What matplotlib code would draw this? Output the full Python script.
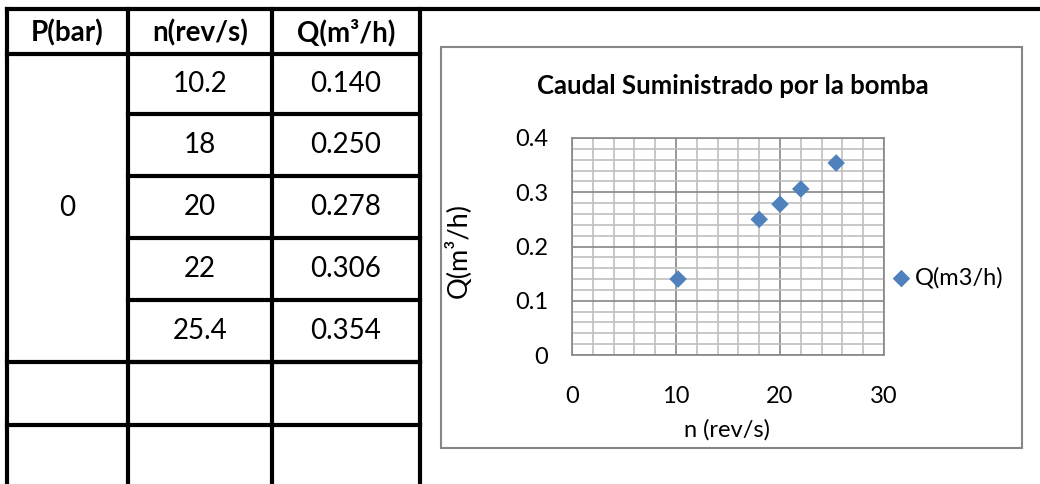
import matplotlib
matplotlib.use("Agg")
import matplotlib.pyplot as plt
from matplotlib.lines import Line2D
from matplotlib.ticker import MultipleLocator, FuncFormatter

plt.rcParams['font.family'] = ['Lato', 'DejaVu Sans']

# pump test data
pressure = ["0"]
speed_labels = ["10.2", "18", "20", "22", "25.4"]
speed = [10.2, 18, 20, 22, 25.4]
flow = [0.140, 0.250, 0.278, 0.306, 0.354]
headers = ["P(bar)", "n(rev/s)", "Q(m³/h)"]

W, H = 1040, 484
fig = plt.figure(figsize=(W / 100, H / 100), dpi=100)

# background layer in pixel units for the table and chart frame
bg = fig.add_axes([0, 0, 1, 1])
bg.set_xlim(0, W)
bg.set_ylim(H, 0)
bg.axis("off")

col_x = [7, 128, 272, 420]
row_y = [9, 54, 114, 176, 238, 300, 362, 425]
lw = 3

def hline(y, x0, x1):
    bg.add_line(Line2D([x0, x1], [y, y], color="black", lw=lw, solid_capstyle="projecting"))

def vline(x, y0, y1):
    bg.add_line(Line2D([x, x], [y0, y1], color="black", lw=lw, solid_capstyle="projecting"))

hline(row_y[0], col_x[0], W)
hline(row_y[1], col_x[0], col_x[3])
for y in row_y[2:7]:
    hline(y, col_x[1], col_x[3])
hline(row_y[6], col_x[0], col_x[3])
hline(row_y[7], col_x[0], col_x[3])
for x in col_x:
    vline(x, row_y[0], H + 5)

fs = 20
for i, h in enumerate(headers):
    cx = (col_x[i] + col_x[i + 1]) / 2
    bg.text(cx, (row_y[0] + row_y[1]) / 2 + 1, h, ha="center", va="center",
            fontsize=fs, fontweight="bold")

for r, (nl, q) in enumerate(zip(speed_labels, flow)):
    cy = (row_y[r + 1] + row_y[r + 2]) / 2
    bg.text((col_x[1] + col_x[2]) / 2, cy, nl, ha="center", va="center", fontsize=fs)
    bg.text((col_x[2] + col_x[3]) / 2, cy, f"{q:.3f}", ha="center", va="center", fontsize=fs)

bg.text((col_x[0] + col_x[1]) / 2, (row_y[1] + row_y[6]) / 2, pressure[0],
        ha="center", va="center", fontsize=fs)

# chart frame
bg.add_patch(plt.Rectangle((441, 47), 1022 - 441, 448 - 47, fill=False,
                           edgecolor="#868686", lw=1.5))

# scatter plot
px0, px1, py0, py1 = 572, 884, 138, 355
cfs = 17
ax = fig.add_axes([px0 / W, (H - py1) / H, (px1 - px0) / W, (py1 - py0) / H])
ax.scatter(speed, flow, marker="D", s=80, color="#4F81BD", zorder=3,
           label="Q(m3/h)", edgecolors="none")
ax.set_xlim(0, 30)
ax.set_ylim(0, 0.4)
ax.xaxis.set_major_locator(MultipleLocator(10))
ax.xaxis.set_minor_locator(MultipleLocator(2))
ax.yaxis.set_major_locator(MultipleLocator(0.1))
ax.yaxis.set_minor_locator(MultipleLocator(0.02))
ax.yaxis.set_major_formatter(FuncFormatter(lambda v, _: "0" if abs(v) < 1e-9 else f"{v:.1f}"))
ax.grid(which="minor", color="#BFBFBF", lw=1.2)
ax.grid(which="major", color="#868686", lw=1.2)
ax.set_axisbelow(True)
for s in ax.spines.values():
    s.set_color("#868686")
    s.set_linewidth(1.2)
ax.tick_params(which="both", length=0)
ax.tick_params(axis="x", pad=22, labelsize=cfs)
ax.tick_params(axis="y", pad=17, labelsize=cfs)

fig.text(733 / W, 1 - 86 / H, "Caudal Suministrado por la bomba", ha="center",
         va="center", fontsize=18.5, fontweight="bold")
fig.text(727 / W, 1 - 430 / H, "n (rev/s)", ha="center", va="center", fontsize=cfs)
fig.text(458 / W, 1 - 250 / H, "Q(m³/h)", ha="center", va="center", fontsize=19.5,
         rotation=90)

ax.legend(loc="center left", bbox_to_anchor=(892 / W, 1 - 278 / H),
          bbox_transform=fig.transFigure, frameon=False, fontsize=cfs,
          handletextpad=0.15, borderpad=0, borderaxespad=0, handlelength=0.8)

fig.savefig("out.png", dpi=100)
